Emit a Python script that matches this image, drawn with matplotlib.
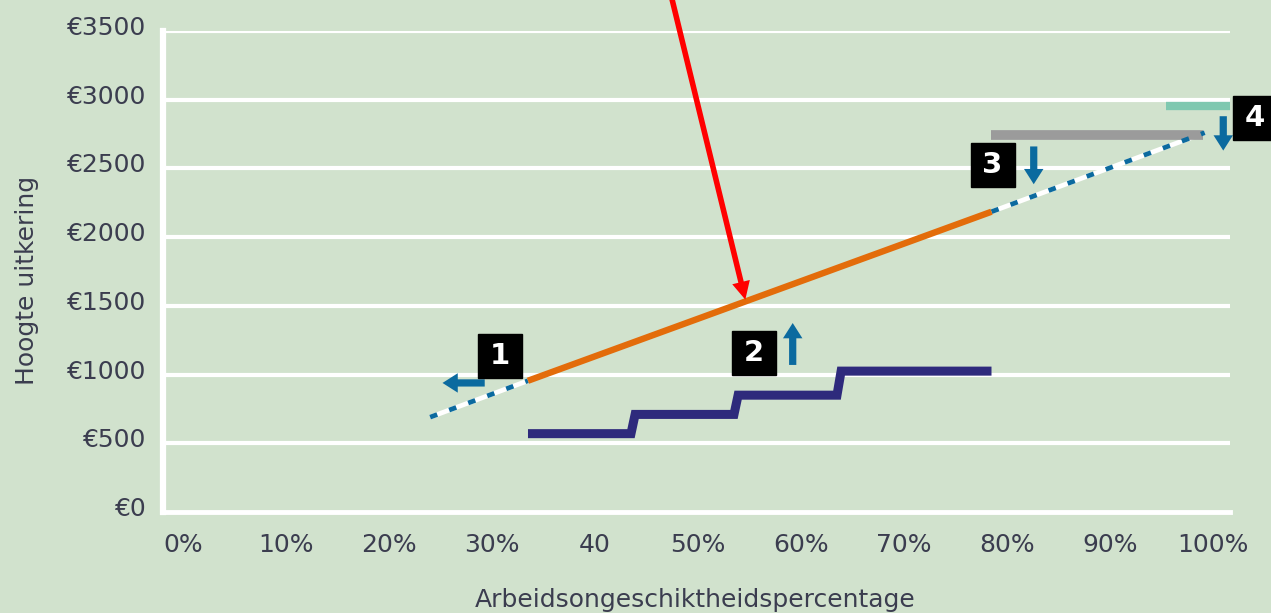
import matplotlib.pyplot as plt
import matplotlib.transforms as mtransforms

# gegevens
y_ticks = [0, 500, 1000, 1500, 2000, 2500, 3000, 3500]
y_labels = ['€0', '€500', '€1000', '€1500', '€2000', '€2500', '€3000', '€3500']
x_ticks = [0, 10, 20, 30, 40, 50, 60, 70, 80, 90, 100]
x_labels = ['0%', '10%', '20%', '30%', '40', '50%', '60%', '70%', '80%', '90%', '100%']

lijn_x = [24, 33.5, 78.5, 99.2]          # uitkering als lijn
lijn_y = [690, 955, 2185, 2760]

stap_grenzen = [33.5, 43.5, 53.5, 63.5, 78.5]   # trapjes
stap_waarden = [570, 710, 850, 1025]

grijs_x = [78.5, 99.0]
grijs_y = [2745, 2745]
mint_x = [95.4, 101.7]
mint_y = [2955, 2955]

bg = '#d1e2cd'
txt = '#3b3d4f'
blauw = '#0b6a9f'

fig = plt.figure(figsize=(12.71, 6.13), dpi=100, facecolor=bg)
ax = fig.add_axes([0.1282, 0.1648, 0.9677 - 0.1282, 0.9494 - 0.1648])
ax.set_facecolor(bg)
ax.set_xlim(-1.94, 101.65)
ax.set_ylim(0, 3500)

for v in y_ticks[1:]:
    ax.axhline(v, color='white', lw=3, zorder=1)
for s in ['top', 'right']:
    ax.spines[s].set_visible(False)
ax.spines['left'].set_color('white')
ax.spines['left'].set_linewidth(4.5)
ax.spines['bottom'].set_color('white')
ax.spines['bottom'].set_linewidth(3.5)

ax.set_yticks(y_ticks, y_labels)
ax.set_xticks(x_ticks, x_labels)
ax.tick_params(length=0, colors=txt, labelsize=18)
ax.tick_params(axis='y', pad=12)
ax.tick_params(axis='x', pad=15)
off = mtransforms.ScaledTranslation(0, 4 / 72, fig.dpi_scale_trans)
for lab in ax.get_yticklabels():
    lab.set_transform(lab.get_transform() + off)

# stippellijn + oranje deel
for a, b in [(0, 1), (2, 3)]:
    ax.plot(lijn_x[a:b + 1], lijn_y[a:b + 1], color='white', lw=3.4,
            solid_capstyle='butt', zorder=3)
    ax.plot(lijn_x[a:b + 1], lijn_y[a:b + 1], color=blauw, lw=3.4,
            dashes=(1.6, 2.7), dash_capstyle='butt', zorder=4)
ax.plot(lijn_x[1:3], lijn_y[1:3], color='#e36c0a', lw=4.6,
        solid_capstyle='butt', zorder=5)

# trapjes
sx, sy = [], []
for i, w in enumerate(stap_waarden):
    x0 = stap_grenzen[i] + (0.4 if i > 0 else 0)
    sx += [x0, stap_grenzen[i + 1]]
    sy += [w, w]
ax.plot(sx, sy, color='#2e2a7c', lw=6.5, solid_capstyle='butt',
        solid_joinstyle='miter', zorder=5)

ax.plot(grijs_x, grijs_y, color='#9b9b9b', lw=7, solid_capstyle='butt', zorder=3)
ax.plot(mint_x, mint_y, color='#7fc8b0', lw=6, solid_capstyle='butt',
        zorder=3, clip_on=False)

# blauwe pijltjes
stijl = 'simple,head_length=0.55,head_width=0.7,tail_width=0.26'
pijlen = [((29.3, 939), (25.2, 939)), ((59.2, 1070), (59.2, 1375)),
          ((82.6, 2660), (82.6, 2385)), ((101.0, 2880), (101.0, 2630))]
for start, eind in pijlen:
    ax.annotate('', xy=eind, xytext=start, annotation_clip=False,
                arrowprops=dict(arrowstyle=stijl, color=blauw, lw=0,
                                mutation_scale=20, shrinkA=0, shrinkB=0),
                zorder=6)

# rode pijl
ax.annotate('', xy=(54.6, 1545), xytext=(47.0, 3880), annotation_clip=False,
            arrowprops=dict(arrowstyle='simple,head_length=0.65,head_width=0.65,tail_width=0.2',
                            color='#ff0000', lw=0, mutation_scale=20,
                            shrinkA=0, shrinkB=0), zorder=7)

# genummerde blokjes
blokjes = [('1', 30.8, 1135), ('2', 55.4, 1157), ('3', 78.6, 2525), ('4', 104.1, 2868)]
for t, x, y in blokjes:
    ax.plot(x, y, 's', ms=31, color='black', clip_on=False, zorder=8)
    ax.text(x, y, t, color='white', fontsize=21, fontweight='bold',
            ha='center', va='center', zorder=9, clip_on=False)

fig.text(27 / 1271, 1 - 280 / 613, 'Hoogte uitkering', rotation=90,
         ha='center', va='center', fontsize=18, color=txt)
fig.text(695 / 1271, 1 - 600 / 613, 'Arbeidsongeschiktheidspercentage',
         ha='center', va='center', fontsize=18, color=txt)

fig.savefig('out.png', dpi=100, facecolor=bg)
